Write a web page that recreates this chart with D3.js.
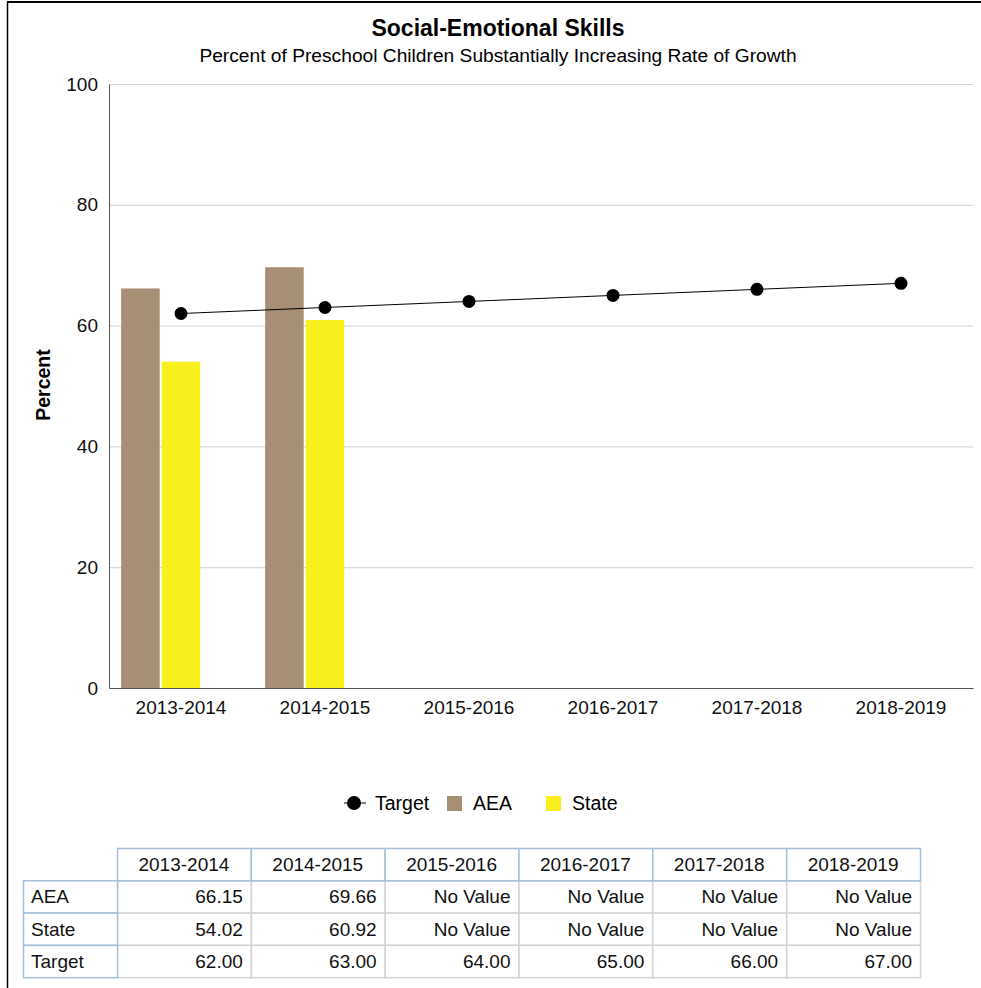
<!DOCTYPE html>
<html><head><meta charset="utf-8">
<script src="https://cdn.jsdelivr.net/npm/d3@7"></script>
<style>body{margin:0;background:#fff;font-family:"Liberation Sans",Arial,sans-serif;}</style>
</head><body>
<script>
const categories = ["2013-2014","2014-2015","2015-2016","2016-2017","2017-2018","2018-2019"];
const aeaValues = [66.15, 69.66, null, null, null, null];
const stateValues = [54.02, 60.92, null, null, null, null];
const targetValues = [62, 63, 64, 65, 66, 67];
const yTicks = [0, 20, 40, 60, 80, 100];
const seriesNames = ["AEA", "State", "Target"];

(function(){
const W = 981, H = 988;
const svg = d3.select("body").append("svg").attr("width", W).attr("height", H)
  .style("font-family", '"Liberation Sans",Arial,sans-serif');

// frame
svg.append("line").attr("x1", 7).attr("x2", W).attr("y1", 2).attr("y2", 2).attr("stroke", "#000").attr("stroke-width", 2);
svg.append("line").attr("x1", 7.5).attr("x2", 7.5).attr("y1", 2).attr("y2", H).attr("stroke", "#000").attr("stroke-width", 1.5);

svg.append("text").attr("x", 498).attr("y", 36).attr("text-anchor", "middle")
  .attr("font-size", 23).attr("font-weight", "bold").text("Social-Emotional Skills");
svg.append("text").attr("x", 498).attr("y", 62).attr("text-anchor", "middle")
  .attr("font-size", 19.2).text("Percent of Preschool Children Substantially Increasing Rate of Growth");

const pL = 109, pR = 973, pT = 84, pB = 688;
const x = d3.scaleBand().domain(categories).range([pL, pR]);
const y = d3.scaleLinear().domain([0, 100]).range([pB, pT]);
const slot = d3.scaleBand().domain(seriesNames).range([0, x.bandwidth()]).paddingOuter(0.3).paddingInner(0.05);

// grid
svg.append("g").selectAll("line").data(yTicks.filter(d => d > 0)).join("line")
  .attr("x1", pL).attr("x2", pR).attr("y1", d => y(d) + 0.5).attr("y2", d => y(d) + 0.5)
  .attr("stroke", "#d0d0d0");

const yAxis = svg.append("g").attr("transform", `translate(${pL},0)`)
  .call(d3.axisLeft(y).tickValues(yTicks).tickSize(0).tickPadding(11));
yAxis.select(".domain").attr("stroke", "#555");
yAxis.selectAll("text").attr("font-size", 19).attr("fill", "#111");

svg.append("text").attr("transform", "translate(50,385) rotate(-90)").attr("text-anchor", "middle")
  .attr("font-size", 19.5).attr("font-weight", "bold").text("Percent");

// bars
const bars = [{name: "AEA", vals: aeaValues, color: "#a68f74"}, {name: "State", vals: stateValues, color: "#f9ee1e"}];
bars.forEach(s => {
  svg.append("g").selectAll("rect").data(categories.map((c, i) => ({c, v: s.vals[i]})).filter(d => d.v != null))
    .join("rect")
    .attr("x", d => x(d.c) + slot(s.name)).attr("width", slot.bandwidth())
    .attr("y", d => y(d.v)).attr("height", d => y(0) - y(d.v)).attr("fill", s.color);
});

const xAxis = svg.append("g").attr("transform", `translate(0,${pB})`)
  .call(d3.axisBottom(x).tickSize(0).tickPadding(13));
xAxis.select(".domain").attr("stroke", "#555");
xAxis.selectAll("text").attr("font-size", 19).attr("fill", "#111");

// target line
const pts = categories.map((c, i) => [x(c) + x.bandwidth() / 2, y(targetValues[i])]);
svg.append("path").attr("d", d3.line()(pts)).attr("fill", "none").attr("stroke", "#000").attr("stroke-width", 1);
svg.append("g").selectAll("circle").data(pts).join("circle")
  .attr("cx", d => d[0]).attr("cy", d => d[1]).attr("r", 6.5).attr("fill", "#000");

// legend
const lg = svg.append("g");
lg.append("line").attr("x1", 344).attr("x2", 366).attr("y1", 803).attr("y2", 803).attr("stroke", "#000");
lg.append("circle").attr("cx", 354).attr("cy", 803).attr("r", 7).attr("fill", "#000");
lg.append("text").attr("x", 375).attr("y", 810).attr("font-size", 19.5).text("Target");
lg.append("rect").attr("x", 447).attr("y", 796).attr("width", 15).attr("height", 15).attr("fill", "#a68f74");
lg.append("text").attr("x", 473).attr("y", 810).attr("font-size", 19.5).text("AEA");
lg.append("rect").attr("x", 546).attr("y", 796).attr("width", 15).attr("height", 15).attr("fill", "#f9ee1e");
lg.append("text").attr("x", 572).attr("y", 810).attr("font-size", 19.5).text("State");

// table
const tbl = svg.append("g");
const colX = d3.scaleBand().domain(categories).range([117, 920]);
const rowNames = ["AEA", "State", "Target"];
const rowVals = [aeaValues, stateValues, targetValues];
const hdrTop = 848, rowH = 32.3;
const rowY = d3.scaleBand().domain(rowNames).range([hdrTop + rowH, hdrTop + rowH * 4]);
rowNames.forEach((r, ri) => {
  categories.forEach((c, ci) => {
    tbl.append("rect").attr("x", colX(c) + 0.5).attr("y", rowY(r) + 0.5).attr("width", colX.bandwidth()).attr("height", rowY.bandwidth())
      .attr("fill", "#fff").attr("stroke", "#d4d4d4").attr("stroke-width", 1.5);
    const v = rowVals[ri][ci];
    tbl.append("text").attr("x", colX(c) + colX.bandwidth() - 8).attr("y", rowY(r) + rowY.bandwidth() / 2 + 7)
      .attr("text-anchor", "end").attr("font-size", 19).attr("fill", "#111")
      .text(v == null ? "No Value" : v.toFixed(2));
  });
});
categories.forEach(c => {
  tbl.append("rect").attr("x", colX(c) + 0.5).attr("y", hdrTop + 0.5).attr("width", colX.bandwidth()).attr("height", rowH)
    .attr("fill", "#fff").attr("stroke", "#a6c0dc").attr("stroke-width", 1.5);
  tbl.append("text").attr("x", colX(c) + colX.bandwidth() / 2).attr("y", hdrTop + rowH / 2 + 7)
    .attr("text-anchor", "middle").attr("font-size", 19).attr("fill", "#111").text(c);
});
rowNames.forEach(r => {
  tbl.append("rect").attr("x", 23.5).attr("y", rowY(r) + 0.5).attr("width", 117 - 23).attr("height", rowY.bandwidth())
    .attr("fill", "#fff").attr("stroke", "#a6c0dc").attr("stroke-width", 1.5);
  tbl.append("text").attr("x", 31).attr("y", rowY(r) + rowY.bandwidth() / 2 + 7)
    .attr("font-size", 19).attr("fill", "#111").text(r);
});
})();
</script>
</body></html>
